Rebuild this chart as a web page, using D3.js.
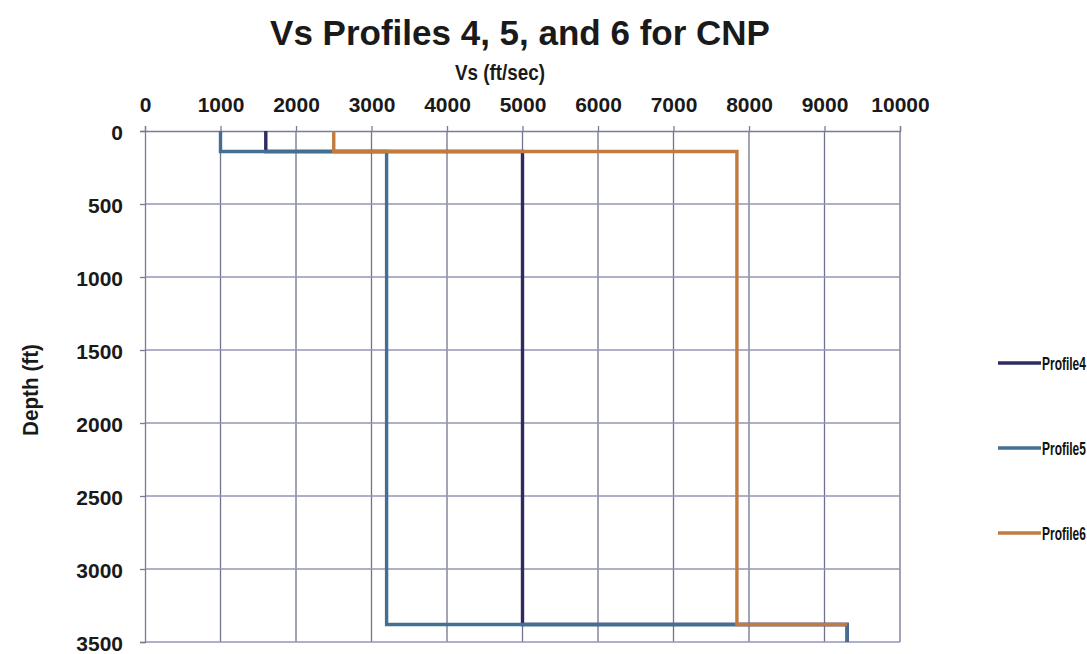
<!DOCTYPE html>
<html>
<head>
<meta charset="utf-8">
<script src="https://cdn.jsdelivr.net/npm/d3@7"></script>
<style>
  body { margin: 0; background: #fff; }
  svg { display: block; font-family: "Liberation Sans", Arial, sans-serif; }
  .tick text { font-weight: bold; fill: #1a1a1a; }
  .narrow { font-weight: bold; }
</style>
</head>
<body>
<svg id="chart" width="1087" height="654"></svg>
<script>
"use strict";

// layer tops (ft) and Vs (ft/sec) per layer
var layerTops = [0, 140, 3380];
var profile4Vs = [1600, 5000, 9300];
var profile5Vs = [1000, 3200, 9300];
var profile6Vs = [2500, 7840, 9300];
// depth at which each drawn profile stops
var profileEnds = [3500, 3500, 3380];
var profileNames = ['Profile4', 'Profile5', 'Profile6'];
var profileColors = ['#2e2b5f', '#436f93', '#c27b3e'];

var xTicks = [0, 1000, 2000, 3000, 4000, 5000, 6000, 7000, 8000, 9000, 10000];
var yTicks = [0, 500, 1000, 1500, 2000, 2500, 3000, 3500];

function _step_points(vs, end) {
  var pts = [];
  vs.forEach(function (v, i) {
    var bottom = i < vs.length - 1 ? layerTops[i + 1] : end;
    pts.push({ v: v, d: layerTops[i] });
    pts.push({ v: v, d: bottom });
  });
  return pts;
}

function draw_chart() {
  var svg = d3.select('#chart');
  var margin = { top: 131, right: 187, bottom: 12, left: 145 };
  var width = 1087 - margin.left - margin.right;
  var height = 654 - margin.top - margin.bottom;

  var plot = svg.append('g')
    .attr('transform', 'translate(' + margin.left + ',' + margin.top + ')');

  var X = d3.scaleLinear().domain([0, 10000]).range([0, width]);
  var Y = d3.scaleLinear().domain([0, 3500]).range([0, height]);

  // grid
  plot.append('g')
    .selectAll('line.vgrid')
    .data(xTicks.slice(1))
    .enter().append('line')
    .attr('class', 'vgrid')
    .attr('x1', d => X(d)).attr('x2', d => X(d))
    .attr('y1', 0).attr('y2', height)
    .attr('stroke', '#6f7290').attr('stroke-width', 1.3);
  plot.append('g')
    .selectAll('line.hgrid')
    .data(yTicks.slice(1))
    .enter().append('line')
    .attr('class', 'hgrid')
    .attr('x1', 0).attr('x2', width)
    .attr('y1', d => Y(d)).attr('y2', d => Y(d))
    .attr('stroke', '#9496b4').attr('stroke-width', 1.3);

  var xaxis = d3.axisTop(X).tickValues(xTicks).tickSize(5).tickPadding(14)
    .tickFormat(d3.format('d'));
  var yaxis = d3.axisLeft(Y).tickValues(yTicks).tickSize(5).tickPadding(17)
    .tickFormat(d3.format('d'));

  var gx = plot.append('g').attr('class', 'axis x').call(xaxis);
  var gy = plot.append('g').attr('class', 'axis y').call(yaxis);
  [gx, gy].forEach(function (g) {
    g.select('.domain').attr('stroke', '#7a7c96').attr('stroke-width', 1.3);
    g.selectAll('.tick line').attr('stroke', '#7a7c96').attr('stroke-width', 1.3);
    g.selectAll('.tick text').style('font-size', '21px');
  });
  gy.selectAll('.tick text').attr('dy', '0.4em');

  // profiles
  var valueline = d3.line()
    .x(d => X(d.v))
    .y(d => Y(d.d));
  [profile4Vs, profile5Vs, profile6Vs].forEach(function (vs, i) {
    plot.append('path')
      .datum(_step_points(vs, profileEnds[i]))
      .attr('fill', 'none')
      .attr('stroke', profileColors[i])
      .attr('stroke-width', 3.4)
      .attr('stroke-linejoin', 'miter')
      .attr('d', valueline);
  });

  // titles
  svg.append('text')
    .attr('x', 520).attr('y', 45)
    .attr('text-anchor', 'middle')
    .style('font-size', '35px').style('font-weight', 'bold')
    .attr('fill', '#1a1a1a')
    .text('Vs Profiles 4, 5, and 6 for CNP');
  svg.append('text')
    .attr('class', 'narrow')
    .attr('x', 455).attr('y', 80)
    .attr('textLength', 90).attr('lengthAdjust', 'spacingAndGlyphs')
    .style('font-size', '22px')
    .attr('fill', '#1a1a1a')
    .text('Vs (ft/sec)');
  svg.append('text')
    .attr('class', 'narrow')
    .attr('transform', 'translate(38,436) rotate(-90)')
    .attr('textLength', 92).attr('lengthAdjust', 'spacingAndGlyphs')
    .style('font-size', '22px')
    .attr('fill', '#1a1a1a')
    .text('Depth (ft)');

  // legend
  var legendY = [363, 448, 533];
  var legend = svg.append('g');
  profileNames.forEach(function (name, i) {
    legend.append('line')
      .attr('x1', 998).attr('x2', 1041)
      .attr('y1', legendY[i]).attr('y2', legendY[i])
      .attr('stroke', profileColors[i]).attr('stroke-width', 3.4);
    legend.append('text')
      .attr('class', 'narrow')
      .attr('transform', 'translate(1042,' + (legendY[i] + 7) + ') scale(0.63,1)')
      .style('font-size', '19px')
      .attr('fill', '#111')
      .text(name);
  });
}

draw_chart();
</script>
</body>
</html>
